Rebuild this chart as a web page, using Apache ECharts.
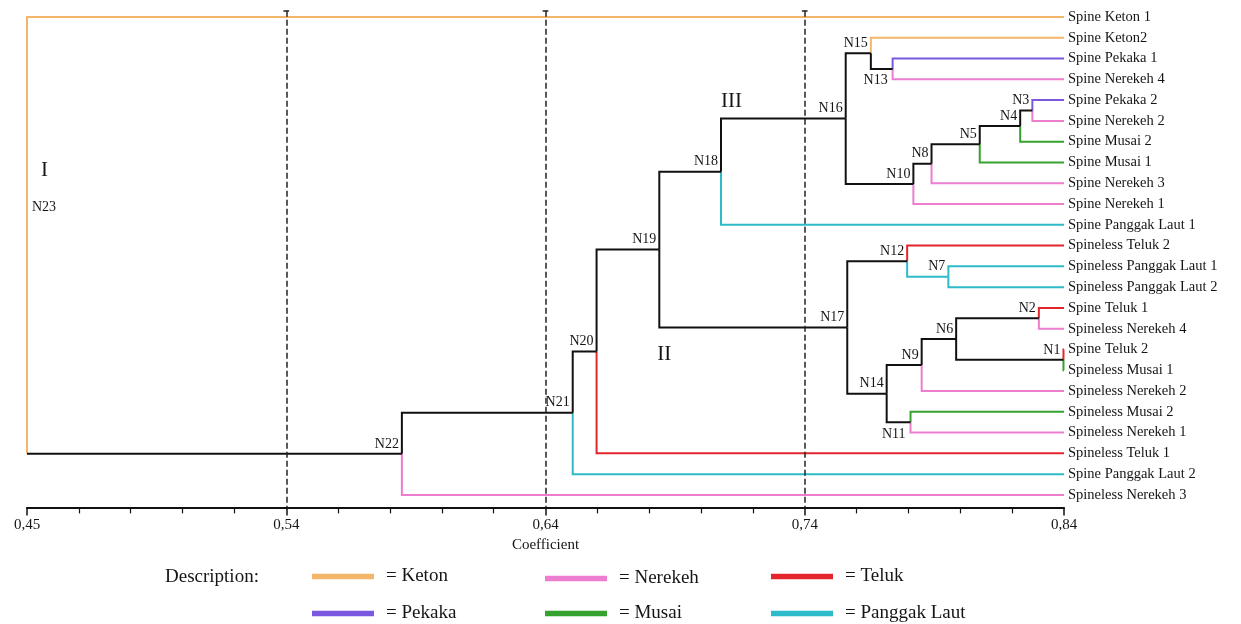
<!DOCTYPE html>
<html>
<head>
<meta charset="utf-8">
<script src="https://cdn.jsdelivr.net/npm/echarts@6/dist/echarts.min.js"></script>
<style>html,body{margin:0;padding:0;background:#fff}#c{width:1241px;height:624px}</style>
</head>
<body>
<div id="c"></div>
<script>
// ---------- data ----------
const leafNames = ['Spine Keton 1','Spine Keton2','Spine Pekaka 1','Spine Nerekeh 4','Spine Pekaka 2','Spine Nerekeh 2','Spine Musai 2','Spine Musai 1','Spine Nerekeh 3','Spine Nerekeh 1','Spine Panggak Laut 1','Spineless Teluk 2','Spineless Panggak Laut 1','Spineless Panggak Laut 2','Spine Teluk 1','Spineless Nerekeh 4','Spine Teluk 2','Spineless Musai 1','Spineless Nerekeh 2','Spineless Musai 2','Spineless Nerekeh 1','Spineless Teluk 1','Spine Panggak Laut 2','Spineless Nerekeh 3'];
const leafGroups = ['Keton','Keton','Pekaka','Nerekeh','Pekaka','Nerekeh','Musai','Musai','Nerekeh','Nerekeh','Panggak Laut','Teluk','Panggak Laut','Panggak Laut','Teluk','Nerekeh','Teluk','Musai','Nerekeh','Musai','Nerekeh','Teluk','Panggak Laut','Nerekeh'];
const nodeNames = ['N1','N2','N3','N4','N5','N6','N7','N8','N9','N10','N11','N12','N13','N14','N15','N16','N17','N18','N19','N20','N21','N22','N23'];
const nodeChildren = [
  ['Spine Teluk 2','Spineless Musai 1'],
  ['Spine Teluk 1','Spineless Nerekeh 4'],
  ['Spine Pekaka 2','Spine Nerekeh 2'],
  ['N3','Spine Musai 2'],
  ['N4','Spine Musai 1'],
  ['N2','N1'],
  ['Spineless Panggak Laut 1','Spineless Panggak Laut 2'],
  ['N5','Spine Nerekeh 3'],
  ['N6','Spineless Nerekeh 2'],
  ['N8','Spine Nerekeh 1'],
  ['Spineless Musai 2','Spineless Nerekeh 1'],
  ['Spineless Teluk 2','N7'],
  ['Spine Pekaka 1','Spine Nerekeh 4'],
  ['N9','N11'],
  ['Spine Keton2','N13'],
  ['N15','N10'],
  ['N12','N14'],
  ['N16','Spine Panggak Laut 1'],
  ['N18','N17'],
  ['N19','Spineless Teluk 1'],
  ['N20','Spine Panggak Laut 2'],
  ['N21','Spineless Nerekeh 3'],
  ['Spine Keton 1','N22']
];
const nodeHeights = [0.8398,0.8303,0.8278,0.8231,0.8075,0.7984,0.7954,0.7889,0.7851,0.7819,0.7808,0.7795,0.7739,0.7716,0.7655,0.7558,0.7564,0.7077,0.6839,0.6597,0.6505,0.5846,0.44];
const groupNames = ['Keton','Nerekeh','Teluk','Pekaka','Musai','Panggak Laut'];
const groupColors = ['#F3B66A','#EC7DCF','#E2262C','#7B58E0','#36A22E','#2EBBC9'];
const tickValues = [0.44,0.54,0.64,0.74,0.84];
const tickLabels = ['0,45','0,54','0,64','0,74','0,84'];
const guideValues = [0.54,0.64,0.74];
const clusterLabels = [['I','N23'],['II','N17'],['III','N16']];

// ---------- build ----------
const SERIF = "'Liberation Serif','DejaVu Serif',serif";
const TXT = '#151515';
const xMin = tickValues[0], xMax = tickValues[tickValues.length-1];
const pos = {};
leafNames.forEach((n,i)=>{ pos[n] = {h:xMax, y:i, g:leafGroups[i]}; });
nodeNames.forEach((n,i)=>{
  const a = pos[nodeChildren[i][0]], b = pos[nodeChildren[i][1]];
  pos[n] = {h:nodeHeights[i], y:(a.y+b.y)/2, g:(a.g && a.g===b.g)?a.g:null};
});
const rootName = nodeNames[nodeNames.length-1];
const edges = {}; groupNames.forEach(g=>edges[g]=[]); edges.black=[];
nodeNames.forEach((n,i)=>{
  const p = pos[n];
  const c0 = pos[nodeChildren[i][0]], c1 = pos[nodeChildren[i][1]];
  if (n === rootName) {
    edges[c0.g||'black'].push({coords:[[p.h,c1.y],[p.h,c0.y],[c0.h,c0.y]]});
    edges[c1.g||'black'].push({coords:[[p.h,c1.y],[c1.h,c1.y]]});
  } else {
    [c0,c1].forEach(c=>edges[c.g||'black'].push({coords:[[p.h,p.y],[p.h,c.y],[c.h,c.y]]}));
  }
});
const series = [];
groupNames.forEach((g,i)=>series.push({
  name:g, type:'lines', coordinateSystem:'cartesian2d', polyline:true, silent:true,
  lineStyle:{color:groupColors[i], width:2, opacity:1}, data:edges[g], z:3
}));
series.push({name:'tree', type:'lines', coordinateSystem:'cartesian2d', polyline:true, silent:true,
  lineStyle:{color:'#111', width:2, opacity:1}, data:edges.black, z:4});
// guide lines
series.push({name:'guides', type:'lines', coordinateSystem:'cartesian2d', silent:true, z:5,
  lineStyle:{color:'#222', width:1.5, opacity:1, type:[6,3]},
  data:guideValues.map(v=>({coords:[[v,-0.3],[v,23.6]]}))});
series.push({name:'caps', type:'lines', coordinateSystem:'cartesian2d', silent:true, z:5,
  lineStyle:{color:'#222', width:1.5, opacity:1},
  data:guideValues.map(v=>({coords:[[v-0.0011,-0.3],[v+0.0011,-0.3]]}))});
const scatterBase = {type:'scatter', symbolSize:0, silent:true, z:6, itemStyle:{opacity:1}};
// leaf labels
series.push(Object.assign({name:'leafLabels'}, scatterBase, {
  data:leafNames.map((n,i)=>[xMax,i,n]),
  label:{show:true, position:'right', distance:4, formatter:p=>p.data[2], color:TXT, opacity:1, fontFamily:SERIF, fontSize:14.5}}));
// node labels
const below = {N13:[-5,4], N11:[-5,5]};
series.push(Object.assign({name:'nodeLabels'}, scatterBase, {
  data:nodeNames.filter(n=>n!==rootName).map(n=>{
    const p = pos[n];
    const off = below[n];
    return {value:[p.h,p.y,n], label: off ? {position:off, verticalAlign:'top'} : {position:[-3,-3], verticalAlign:'bottom'}};
  }),
  label:{show:true, align:'right', formatter:p=>p.data.value[2], color:TXT, opacity:1, fontFamily:SERIF, fontSize:14}}));
// root label & cluster numerals
const rp = pos[rootName];
const clusterOffsets = {I:[14,-65], II:[-2,27], III:[0,-17]};
series.push(Object.assign({name:'rootLabel'}, scatterBase, {
  data:[{value:[rp.h,rp.y,rootName], label:{position:[17,-28]}}],
  label:{show:true, align:'center', verticalAlign:'middle', formatter:p=>p.data.value[2], color:TXT, opacity:1, fontFamily:SERIF, fontSize:14}}));
series.push(Object.assign({name:'clusters'}, scatterBase, {
  data:clusterLabels.map(([t,n])=>{
    const nodeIdx = nodeNames.findIndex((m,i)=>nodeChildren[i].includes(n));
    const parentH = n===rootName ? rp.h : nodeHeights[nodeIdx];
    return {value:[parentH,pos[n].y,t], label:{position:clusterOffsets[t]}};
  }),
  label:{show:true, align:'left', verticalAlign:'middle', formatter:p=>p.data.value[2], color:TXT, opacity:1, fontFamily:SERIF, fontSize:21}}));

// legends
const legendLeft = [312,545,771];
const legendTop = [567,604];
const legends = groupNames.map((g,i)=>({
  data:[{name:g, itemStyle:{color:groupColors[i]}}],
  left:legendLeft[i%3], top:legendTop[Math.floor(i/3)] + (g==='Nerekeh'?2:0),
  padding:0, icon:'rect', itemWidth:60, itemHeight:3.5, selectedMode:false,
  formatter:'= {name}',
  textStyle:{fontFamily:SERIF, fontSize:19, color:TXT, padding:[0,0,0,8]}
}));

const chart = echarts.init(document.getElementById('c'), null, {renderer:'canvas'});
chart.setOption({
  animation:false,
  backgroundColor:'#fff',
  title:{text:'Description:', left:165, top:568, padding:0,
    textStyle:{fontFamily:SERIF, fontSize:19, fontWeight:'normal', color:TXT}},
  legend:legends,
  grid:{left:27, right:177, top:6.6, bottom:116.6, containLabel:false},
  xAxis:{type:'value', min:xMin, max:xMax, interval:0.1,
    name:'Coefficient', nameLocation:'middle', nameGap:30,
    nameTextStyle:{fontFamily:SERIF, fontSize:15, color:TXT},
    axisLine:{show:true, onZero:false, lineStyle:{color:'#111', width:2}},
    axisTick:{show:true, length:8, lineStyle:{color:'#111', width:1.5}},
    minorTick:{show:true, splitNumber:5, length:6, lineStyle:{color:'#111', width:1.2}},
    splitLine:{show:false},
    axisLabel:{margin:10, fontFamily:SERIF, fontSize:15, color:TXT,
      formatter:v=>{const k=tickValues.findIndex(t=>Math.abs(t-v)<1e-6); return k>=0?tickLabels[k]:'';}}
  },
  yAxis:{type:'value', min:-0.5, max:23.6, inverse:true, show:false},
  series:series
});
</script>
</body>
</html>
